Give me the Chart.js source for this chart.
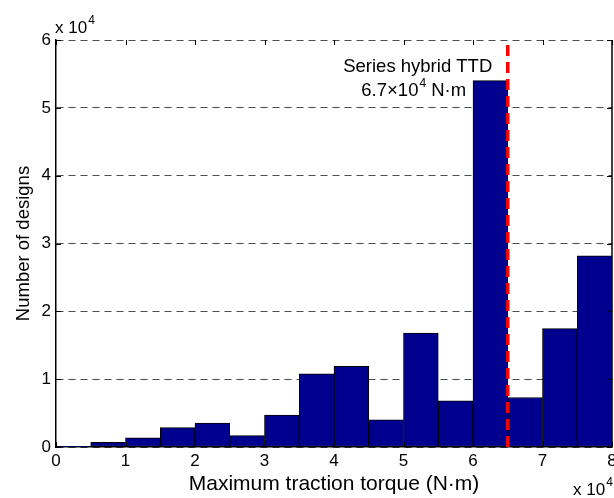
<!DOCTYPE html>
<html>
<head>
<meta charset="utf-8">
<script src="https://cdn.jsdelivr.net/npm/chart.js@4.4.1/dist/chart.umd.min.js"></script>
<style>
  body { margin: 0; background: #fff; }
  canvas { display: block; }
</style>
</head>
<body>
<canvas id="histChart" width="614" height="498"></canvas>
<script>
// Histogram bins (centres, N·m) and counts
const binCenters = [2500, 7500, 12500, 17500, 22500, 27500, 32500, 37500,
                    42500, 47500, 52500, 57500, 62500, 67500, 72500, 77500];
const designCounts = [100, 700, 1370, 2850, 3540, 1670, 4720, 10800,
                      11900, 4000, 16800, 6800, 54000, 7300, 17450, 28200];
const xTickValues = [0, 1, 2, 3, 4, 5, 6, 7, 8];   // x 10^4
const yTickValues = [0, 1, 2, 3, 4, 5, 6];         // x 10^4
const ttdTorque = 65000;
const annotationLines = ['Series hybrid TTD', '6.7×10', '4', ' N·m'];

const FONT = '"Liberation Sans", Arial, Helvetica, sans-serif';
const colors = {
  bar: '#00008f',
  edge: '#000000',
  red: '#ff0000',
  grid: 'rgba(0,0,0,0.7)'
};

// Draws the box, inward ticks, exponent labels and the TTD note
const decorPlugin = {
  id: 'decor',
  afterDraw(chart) {
    const ctx = chart.ctx;
    const xs = chart.scales.x;
    const ys = chart.scales.y;
    const area = chart.chartArea;
    ctx.save();

    // right border
    ctx.strokeStyle = '#000';
    ctx.lineWidth = 1.5;
    ctx.beginPath();
    ctx.moveTo(area.right, area.top);
    ctx.lineTo(area.right, area.bottom);
    ctx.stroke();

    // inward tick marks
    ctx.lineWidth = 1;
    ctx.beginPath();
    xTickValues.forEach((v) => {
      const px = Math.round(xs.getPixelForValue(v * 1e4)) + 0.5;
      ctx.moveTo(px, area.bottom);
      ctx.lineTo(px, area.bottom - 5);
      ctx.moveTo(px, area.top);
      ctx.lineTo(px, area.top + 5);
    });
    yTickValues.forEach((v) => {
      const py = Math.round(ys.getPixelForValue(v * 1e4)) + 0.5;
      ctx.moveTo(area.left, py);
      ctx.lineTo(area.left + 5, py);
      ctx.moveTo(area.right, py);
      ctx.lineTo(area.right - 5, py);
    });
    ctx.stroke();

    // exponent labels
    ctx.fillStyle = '#000';
    ctx.textBaseline = 'alphabetic';
    ctx.textAlign = 'left';
    function expLabel(x, y) {
      ctx.font = '17px ' + FONT;
      ctx.fillText('x 10', x, y);
      const w = ctx.measureText('x 10').width;
      ctx.font = '12px ' + FONT;
      ctx.fillText('4', x + w + 1, y - 9);
    }
    expLabel(area.left - 1, area.top - 7);
    expLabel(573, 495);

    // TTD annotation
    const cx = xs.getPixelForValue(ttdTorque) - 90;
    ctx.textAlign = 'center';
    ctx.font = '18.5px ' + FONT;
    ctx.fillText(annotationLines[0], cx, area.top + 32);

    ctx.textAlign = 'left';
    ctx.font = '18.5px ' + FONT;
    const w1 = ctx.measureText(annotationLines[1]).width;
    const w3 = ctx.measureText(annotationLines[3]).width;
    ctx.font = '12px ' + FONT;
    const w2 = ctx.measureText(annotationLines[2]).width;
    let x0 = cx - 4 - (w1 + w2 + 1 + w3) / 2;
    const yBase = area.top + 56;
    ctx.font = '18.5px ' + FONT;
    ctx.fillText(annotationLines[1], x0, yBase);
    ctx.font = '12px ' + FONT;
    ctx.fillText(annotationLines[2], x0 + w1 + 1, yBase - 9);
    ctx.font = '18.5px ' + FONT;
    ctx.fillText(annotationLines[3], x0 + w1 + w2 + 1, yBase);

    ctx.restore();
  }
};

new Chart(document.getElementById('histChart'), {
  data: {
    datasets: [
      {
        type: 'line',
        order: 0,
        data: [{ x: ttdTorque, y: 0 }, { x: ttdTorque, y: 60000 }],
        borderColor: colors.red,
        borderWidth: 3.5,
        borderDash: [11, 6],
        pointRadius: 0,
        fill: false
      },
      {
        type: 'bar',
        order: 1,
        data: binCenters.map((c, i) => ({ x: c, y: designCounts[i] })),
        backgroundColor: colors.bar,
        borderColor: colors.edge,
        borderWidth: 1,
        borderSkipped: false,
        barPercentage: 1,
        categoryPercentage: 1
      }
    ]
  },
  options: {
    responsive: false,
    animation: false,
    layout: { padding: { top: 40, right: 2, left: 0, bottom: 0 } },
    plugins: {
      legend: { display: false },
      tooltip: { enabled: false }
    },
    scales: {
      x: {
        type: 'linear',
        min: 0,
        max: 80000,
        offset: false,
        afterFit(scale) {
          scale.height = 51;
          scale.paddingLeft = 0;
          scale.paddingRight = 0;
        },
        afterBuildTicks(scale) {
          scale.ticks = xTickValues.map((v) => ({ value: v * 1e4 }));
        },
        ticks: {
          color: '#000',
          padding: 4,
          maxRotation: 0,
          font: { family: FONT, size: 17 },
          callback: (v) => v / 1e4
        },
        grid: { display: false, drawTicks: false },
        border: { color: '#000', width: 1.5 },
        title: {
          display: true,
          text: 'Maximum traction torque (N·m)',
          color: '#000',
          font: { family: FONT, size: 21 },
          padding: { top: 0, bottom: 1 }
        }
      },
      y: {
        min: 0,
        max: 60000,
        afterFit(scale) {
          scale.width = 56;
          scale.paddingTop = 0;
          scale.paddingBottom = 0;
        },
        afterBuildTicks(scale) {
          scale.ticks = yTickValues.map((v) => ({ value: v * 1e4 }));
        },
        ticks: {
          color: '#000',
          padding: 5,
          font: { family: FONT, size: 17 },
          callback: (v) => v / 1e4
        },
        grid: {
          drawTicks: false,
          color: colors.grid,
          lineWidth: 1
        },
        // in v4 the dash here styles the grid lines
        border: { color: '#000', width: 1.5, dash: [7, 5] },
        title: {
          display: true,
          text: 'Number of designs',
          color: '#000',
          font: { family: FONT, size: 18.5 },
          padding: { top: 13, bottom: 0 }
        }
      }
    }
  },
  plugins: [decorPlugin]
});
</script>
</body>
</html>
